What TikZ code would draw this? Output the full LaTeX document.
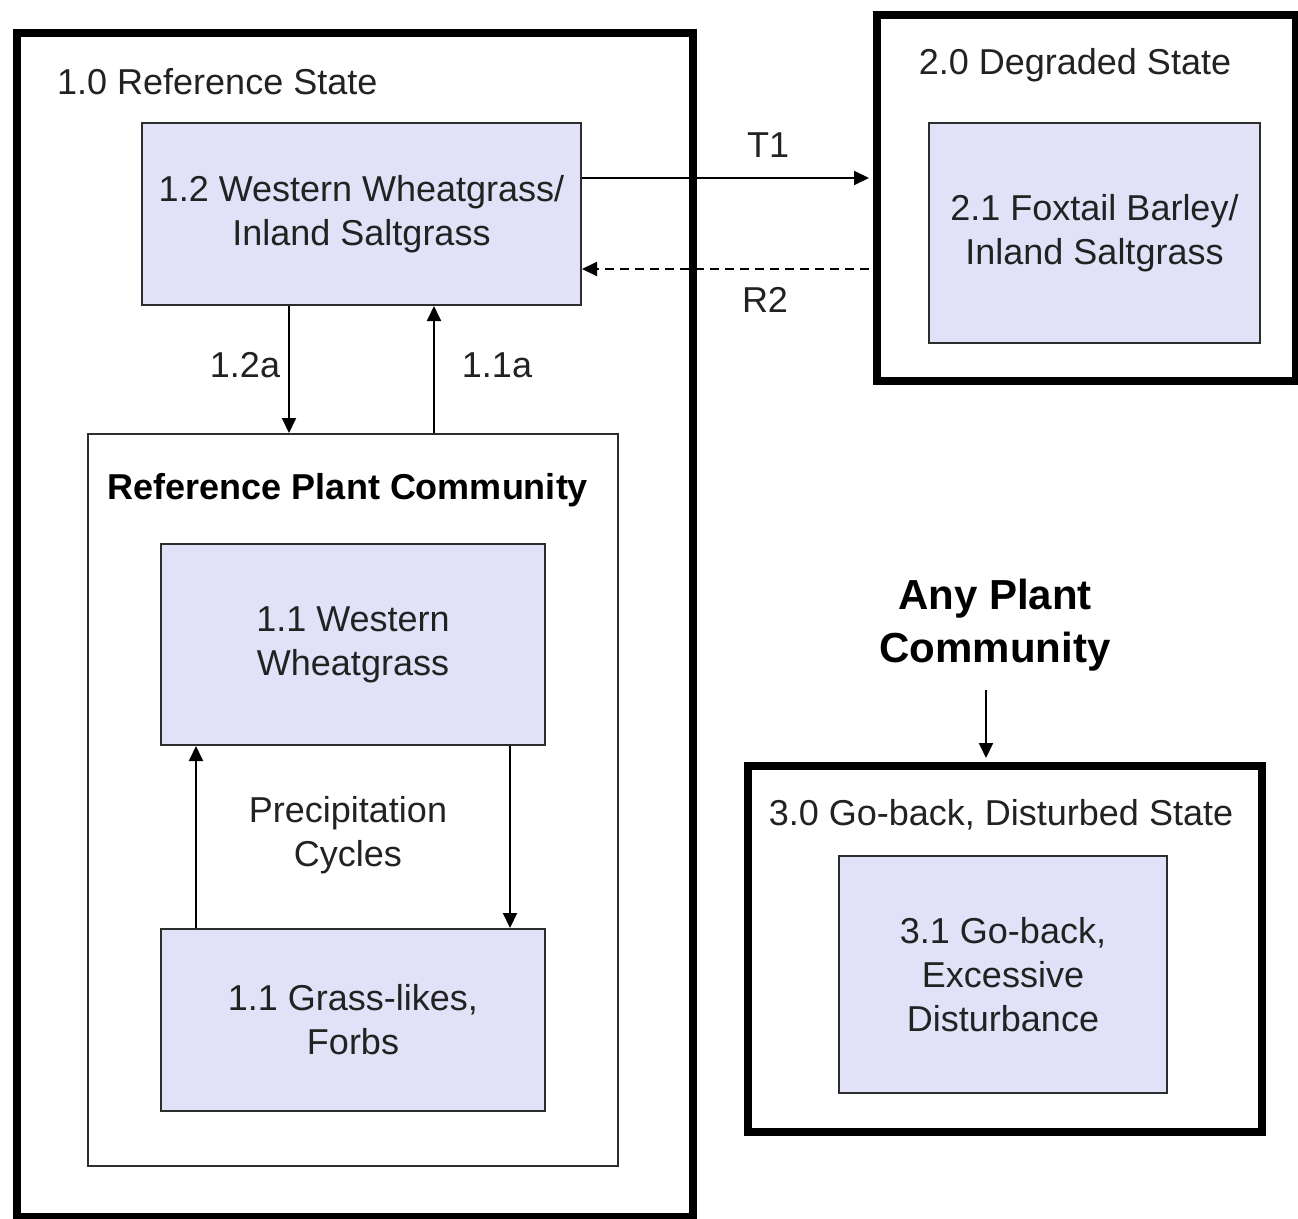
\documentclass[tikz,border=0pt]{standalone}
\usepackage{fontspec}
\setmainfont{Liberation Sans}
\usetikzlibrary{arrows.meta,calc}
\definecolor{lav}{RGB}{225,225,248}
\definecolor{txt}{RGB}{34,34,34}
\definecolor{edge}{RGB}{45,45,45}
\begin{document}
\begin{tikzpicture}[x=1pt,y=-1pt,
  statebox/.style={draw=black,line width=8pt,inner sep=0pt,anchor=north west},
  commbox/.style={draw=edge,line width=2pt,inner sep=0pt,anchor=north west},
  phase/.style={draw=edge,fill=lav,line width=2pt,inner sep=0pt,anchor=north west,
     align=center,text=txt,font=\fontsize{36pt}{44pt}\selectfont},
  lbl/.style={text=txt,inner sep=0pt,align=center,font=\fontsize{36pt}{44pt}\selectfont},
  blbl/.style={text=black,inner sep=0pt,align=center,font=\bfseries\fontsize{36pt}{44pt}\selectfont},
  arr/.style={-{Triangle[length=15pt,width=14pt]},line width=2pt,draw=black}
]
\useasboundingbox (0,0) rectangle (1298,1218);
\fill[white] (0,0) rectangle (1298,1218);

% state boxes
\node[statebox,minimum width=676pt,minimum height=1184pt] (s1) at (13,29) {};
\node[statebox,minimum width=419pt,minimum height=366pt] (s2) at (873,11) {};
\node[statebox,minimum width=514pt,minimum height=366pt] (s3) at (744,762) {};

% community box
\node[commbox,minimum width=530pt,minimum height=732pt] (rpc) at (87,433) {};

% phase boxes
\node[phase,minimum width=439pt,minimum height=182pt] (p12) at (141,122) {1.2 Western Wheatgrass/\\Inland Saltgrass};
\node[phase,minimum width=331pt,minimum height=220pt] (p21) at (928,122) {2.1 Foxtail Barley/\\Inland Saltgrass};
\node[phase,minimum width=384pt,minimum height=201pt] (p11w) at (160,543) {1.1 Western\\Wheatgrass};
\node[phase,minimum width=384pt,minimum height=182pt] (p11g) at (160,928) {1.1 Grass-likes,\\Forbs};
\node[phase,minimum width=328pt,minimum height=237pt] (p31) at (838,855) {3.1 Go-back,\\Excessive\\Disturbance};

% labels
\node[lbl,anchor=west] (l1) at (57,82) {1.0 Reference State};
\node[lbl] (l2) at (1075,65) {2.0 Degraded State};
\node[lbl] (l3) at (1001,815) {3.0 Go-back, Disturbed State};
\node[blbl] (lrpc) at (348,490) {Reference Plant Community};
\node[lbl] (prec) at (348,835) {Precipitation\\Cycles};
\node[blbl,font=\bfseries\fontsize{42pt}{53pt}\selectfont] (any) at (995,625) {Any Plant\\Community};
\node[lbl] (t1) at (768,145) {T1};
\node[lbl] (r2) at (765,300) {R2};
\node[lbl] (a12) at (245,365) {1.2a};
\node[lbl] (a11) at (497,365) {1.1a};

% connectors
\coordinate (t1s) at ([yshift=36pt]p12.east);
\draw[arr,shorten >=4pt] (t1s) -- (t1s -| s2.west);
\coordinate (r2e) at ([yshift=-55pt]p12.east);
\draw[arr,dashed,dash pattern=on 9pt off 6pt,shorten <=4pt] (r2e -| s2.west) -- (r2e);

\coordinate (d12) at ([xshift=-72.5pt]p12.south);
\draw[arr] (d12) -- (d12 |- rpc.north);
\coordinate (u11) at ([xshift=72.5pt]p12.south);
\draw[arr] (u11 |- rpc.north) -- (u11);

\coordinate (upx) at ([xshift=36pt]p11g.north west);
\draw[arr] (upx) -- (upx |- p11w.south);
\coordinate (dnx) at ([xshift=-36pt]p11w.south east);
\draw[arr] (dnx) -- (dnx |- p11g.north);

\coordinate (a3) at (986,690);
\draw[arr,shorten >=4pt] (a3) -- (a3 |- s3.north);
\end{tikzpicture}
\end{document}
